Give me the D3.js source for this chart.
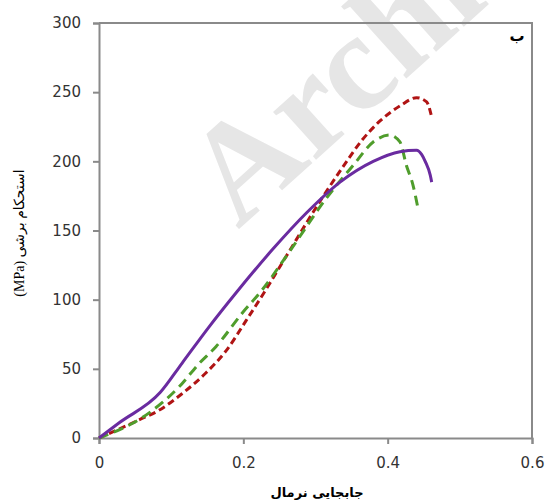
<!DOCTYPE html>
<html>
<head>
<meta charset="utf-8">
<script src="https://cdnjs.cloudflare.com/ajax/libs/d3/7.8.5/d3.min.js"></script>
<style>
  body { margin: 0; background: #fff; }
  svg { display: block; }
</style>
</head>
<body>
<div id="chart"></div>
<script>
// displacement (x) and shear strength in MPa (y)
var purpleX = [0, 0.028, 0.085, 0.115, 0.152, 0.19, 0.24, 0.288, 0.334, 0.38, 0.417, 0.44, 0.447, 0.452, 0.459, 0.461];
var purpleY = [0, 11, 33, 54, 80, 105, 136, 163, 185, 200, 207, 208, 205, 200, 190, 185];

var redX = [0, 0.055, 0.083, 0.115, 0.148, 0.176, 0.204, 0.231, 0.259, 0.311, 0.338, 0.364, 0.389, 0.417, 0.44, 0.454, 0.461];
var redY = [0, 13, 20, 32, 47, 63, 85, 107, 131, 175, 196, 215, 229, 240, 246, 243, 232];

var greenX = [0, 0.069, 0.111, 0.139, 0.162, 0.198, 0.226, 0.263, 0.316, 0.352, 0.38, 0.403, 0.417, 0.426, 0.435, 0.442];
var greenY = [0, 18, 37, 54, 66, 90, 107, 134, 174, 197, 214, 219, 214, 197, 183, 166];

var xTicks = [0, 0.2, 0.4, 0.6];
var yTicks = [0, 50, 100, 150, 200, 250, 300];

var width = 548, height = 504;
var margin = {top: 23, right: 16, bottom: 66, left: 99};

var svg = d3.select("#chart").append("svg")
    .attr("width", width)
    .attr("height", height);

// watermark
svg.append("text")
    .attr("transform", "translate(238,230) rotate(-42)")
    .attr("font-family", "Liberation Serif, serif")
    .attr("font-weight", "bold")
    .attr("font-size", 140)
    .attr("fill", "#e6e6e6")
    .text("Archive");

var x = d3.scaleLinear().domain([0, 0.6]).range([margin.left, width - margin.right]);
var y = d3.scaleLinear().domain([0, 300]).range([height - margin.bottom, margin.top]);

// frame top and right
svg.append("path")
    .attr("d", "M" + x(0) + "," + y(300) + "H" + x(0.6) + "V" + y(0))
    .attr("fill", "none")
    .attr("stroke", "#8a8a8a")
    .attr("stroke-width", 2);

var xAxis = svg.append("g")
    .attr("transform", "translate(0," + y(0) + ")")
    .call(d3.axisBottom(x).tickValues(xTicks).tickSize(6).tickPadding(13)
        .tickFormat(function(d){ return d === 0 ? "0" : d3.format(".1f")(d); }));

var yAxis = svg.append("g")
    .attr("transform", "translate(" + x(0) + ",0)")
    .call(d3.axisLeft(y).tickValues(yTicks).tickSize(6).tickPadding(12));

[xAxis, yAxis].forEach(function(g){
    g.select(".domain").attr("stroke", "#8a8a8a").attr("stroke-width", 2);
    g.selectAll(".tick line").attr("stroke", "#8a8a8a").attr("stroke-width", 2);
    g.selectAll(".tick text")
        .attr("font-family", "DejaVu Sans, sans-serif")
        .attr("font-size", 15)
        .attr("fill", "#333");
});

var line = d3.line()
    .x(function(d){ return x(d[0]); })
    .y(function(d){ return y(d[1]); })
    .curve(d3.curveMonotoneX);

function pairs(xs, ys) {
    return xs.map(function(v, i){ return [v, ys[i]]; });
}

svg.append("path")
    .datum(pairs(redX, redY))
    .attr("d", line)
    .attr("fill", "none")
    .attr("stroke", "#b01414")
    .attr("stroke-width", 3)
    .attr("stroke-dasharray", "7,4");

svg.append("path")
    .datum(pairs(greenX, greenY))
    .attr("d", line)
    .attr("fill", "none")
    .attr("stroke", "#4f9d2c")
    .attr("stroke-width", 3)
    .attr("stroke-dasharray", "10,6");

svg.append("path")
    .datum(pairs(purpleX, purpleY))
    .attr("d", line)
    .attr("fill", "none")
    .attr("stroke", "#6a2ba0")
    .attr("stroke-width", 3);

// panel letter
svg.append("text")
    .attr("x", 517)
    .attr("y", 41)
    .attr("text-anchor", "middle")
    .attr("font-family", "Noto Sans, DejaVu Sans, sans-serif")
    .attr("font-weight", "bold")
    .attr("font-size", 15)
    .attr("fill", "#000")
    .text("ب");

// axis titles
svg.append("text")
    .attr("transform", "translate(24,233) rotate(-90)")
    .attr("text-anchor", "middle")
    .attr("direction", "rtl")
    .attr("font-family", "Liberation Serif, DejaVu Sans, serif")
    .attr("font-size", 14)
    .attr("fill", "#000")
    .text("استحکام برشی (MPa)");

svg.append("text")
    .attr("x", 317)
    .attr("y", 497)
    .attr("text-anchor", "middle")
    .attr("font-family", "DejaVu Sans, sans-serif")
    .attr("font-weight", "bold")
    .attr("font-size", 13)
    .attr("fill", "#000")
    .text("جابجایی نرمال");
</script>
</body>
</html>
